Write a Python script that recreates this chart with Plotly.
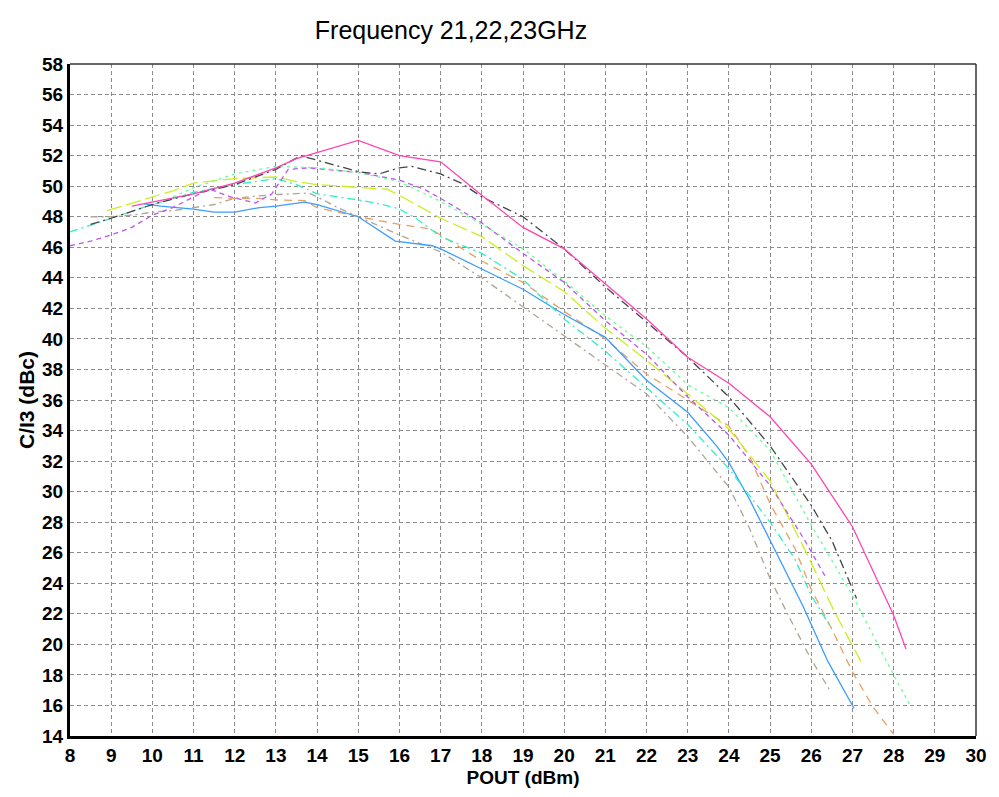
import plotly.graph_objects as go

# ---- data ----
mag_x = [9.5, 10, 11, 12, 13, 13.5, 14, 15, 16, 17, 18, 19, 20, 21, 22, 23, 24, 25, 26, 27, 28, 28.3]
mag_y = [48.7, 48.95, 49.5, 50.2, 51.2, 51.8, 52.2, 53.0, 52.0, 51.6, 49.4, 47.3, 45.9, 43.6, 41.3, 38.8, 37.1, 34.9, 31.8, 27.7, 21.9, 19.7]

dk_x = [8.5, 9, 10, 11, 12, 13, 13.6, 14, 14.5, 15, 15.5, 16, 16.3, 17, 17.5, 18, 19, 20, 21, 22, 23, 24, 25, 26, 26.5, 27.1]
dk_y = [47.5, 47.9, 48.8, 49.5, 50.1, 51.1, 52.0, 51.7, 51.3, 50.95, 50.8, 51.2, 51.3, 50.8, 50.2, 49.3, 48.0, 45.9, 43.4, 41.1, 38.8, 36.2, 33.0, 29.1, 26.8, 23.0]

grn_x = [10.5, 11, 12, 13, 14, 15, 16, 17, 18, 19, 20, 21, 22, 23, 24, 25, 26, 27, 28, 28.4]
grn_y = [49.3, 49.9, 50.8, 51.3, 51.2, 50.9, 50.3, 49.0, 47.5, 45.9, 43.8, 41.5, 39.5, 37.0, 35.5, 32.7, 27.8, 23.2, 18.0, 16.0]

pur_x = [8, 8.5, 9, 9.5, 10, 10.5, 11, 11.4, 11.9, 12.5, 12.9, 13.3, 13.8, 15, 16, 16.6, 17, 18, 19, 20, 21, 22, 23, 24, 25, 25.8, 26.35]
pur_y = [46.1, 46.4, 46.8, 47.3, 48.1, 48.6, 49.3, 49.8, 49.3, 48.9, 49.5, 51.1, 51.2, 50.9, 50.4, 49.8, 49.2, 47.6, 45.6, 43.7, 41.2, 39.0, 36.2, 33.7, 30.4, 27.0, 24.4]

yel_x = [8.9, 9.5, 10, 10.5, 11, 12, 13, 13.5, 14, 15, 15.7, 16, 16.6, 17, 18, 19, 20, 21, 22, 23, 24, 25, 25.9, 26.55, 27.2]
yel_y = [48.4, 48.9, 49.3, 49.7, 50.2, 50.5, 50.6, 50.3, 50.1, 49.9, 49.8, 49.4, 48.5, 47.9, 46.7, 44.8, 43.1, 40.7, 38.6, 36.4, 34.1, 30.7, 25.9, 22.2, 18.9]

teal_x = [8, 9, 10, 11, 12, 13, 13.5, 14, 15, 15.6, 16, 16.4, 17, 18, 19, 20, 21, 22, 23, 24, 25, 25.6, 26, 26.5]
teal_y = [47.0, 47.9, 48.8, 49.6, 50.1, 50.5, 50.1, 49.5, 49.1, 48.8, 48.5, 47.9, 46.7, 45.6, 43.9, 41.3, 39.2, 36.8, 34.4, 31.5, 28.0, 25.6, 23.2, 21.0]

blu_x = [9.8, 10.2, 11, 11.5, 12, 12.6, 13, 13.7, 14, 15, 15.9, 16.8, 17, 18, 19, 20, 21, 22, 23, 23.7, 24, 24.5, 25, 25.8, 26.4, 27.04]
blu_y = [48.85, 48.7, 48.5, 48.3, 48.3, 48.6, 48.7, 48.95, 48.8, 48.0, 46.4, 46.1, 45.9, 44.6, 43.25, 41.6, 40.1, 37.3, 35.2, 33.0, 31.9, 29.5, 26.8, 22.5, 18.9, 15.8]

org_x = [11.5, 12, 12.6, 13, 13.7, 14, 15, 16, 16.75, 17, 18, 19, 20, 21, 22, 23, 24, 24.5, 25, 25.6, 26, 26.5, 27, 27.5, 28]
org_y = [49.25, 49.2, 49.2, 49.1, 49.05, 48.6, 48.0, 47.5, 47.2, 46.8, 45.1, 43.7, 41.8, 40.0, 37.7, 36.0, 34.3, 32.3, 29.2, 26.3, 23.6, 21.0, 18.2, 15.9, 14.1]

gry_x = [8.5, 9, 9.5, 10, 10.5, 11, 11.5, 12, 12.5, 13, 13.8, 14, 14.5, 15, 15.5, 16, 17, 18, 19, 20, 21, 22, 23, 24, 24.5, 25, 25.5, 26, 26.45]
gry_y = [48.0, 48.0, 48.1, 48.3, 48.4, 48.6, 48.8, 49.2, 49.35, 49.45, 49.55, 49.3, 48.6, 48.0, 47.4, 46.8, 45.7, 44.0, 42.1, 40.2, 38.3, 36.4, 33.6, 30.3, 27.6, 24.3, 21.6, 19.0, 17.0]

x_ticks = list(range(8, 31))
y_ticks = list(range(14, 59, 2))

series = [
    (gry_x, gry_y, "#b0a494", "7px,4px,2px,4px"),
    (org_x, org_y, "#e8a064", "8px,6px"),
    (blu_x, blu_y, "#3d9cff", "solid"),
    (teal_x, teal_y, "#2ef0c0", "8px,4px,2px,4px"),
    (yel_x, yel_y, "#c8f020", "15px,5px"),
    (pur_x, pur_y, "#bb55ee", "5px,4px"),
    (grn_x, grn_y, "#66ff99", "3px,4px"),
    (dk_x, dk_y, "#444444", "9px,4px,2px,4px"),
    (mag_x, mag_y, "#ff44b4", "solid"),
]

fig = go.Figure()
for xs, ys, col, dash in series:
    fig.add_trace(go.Scatter(x=xs, y=ys, mode="lines",
                             line=dict(color=col, width=1.3, dash=dash),
                             showlegend=False, hoverinfo="skip"))

fig.update_layout(
    width=999, height=797,
    margin=dict(l=70, r=16, t=64, b=59),
    paper_bgcolor="white", plot_bgcolor="white",
    font=dict(family="Liberation Sans, Arial", color="black"),
    title=dict(text="Frequency 21,22,23GHz", x=451/999, xref="container", xanchor="center",
               y=1 - 30/797, yref="container", yanchor="middle",
               font=dict(size=25, color="black")),
    showlegend=False,
)
fig.update_xaxes(range=[8, 30], tickvals=x_ticks, ticktext=[str(v) for v in x_ticks],
                 showgrid=True, gridcolor="#8c8c8c", griddash="4px,3px", gridwidth=1,
                 showline=True, linecolor="black", linewidth=3, zeroline=False,
                 ticks="", tickfont=dict(size=19, weight="bold"),
                 title=dict(text="POUT (dBm)", font=dict(size=19, weight="bold"), standoff=6))
fig.update_yaxes(range=[14, 58], tickvals=y_ticks, ticktext=[str(v) for v in y_ticks],
                 showgrid=True, gridcolor="#8c8c8c", griddash="4px,3px", gridwidth=1,
                 showline=True, linecolor="black", linewidth=3, zeroline=False,
                 ticks="", tickfont=dict(size=19, weight="bold"),
                 title=dict(text="C/I3 (dBc)", font=dict(size=21, weight="bold"), standoff=2))
# thin top and right frame
fig.add_shape(type="line", xref="paper", yref="paper", x0=0, x1=1, y0=1, y1=1,
              line=dict(color="#333333", width=1.5))
fig.add_shape(type="line", xref="paper", yref="paper", x0=1, x1=1, y0=0, y1=1,
              line=dict(color="#333333", width=1.5))

fig.write_html("out.html")
